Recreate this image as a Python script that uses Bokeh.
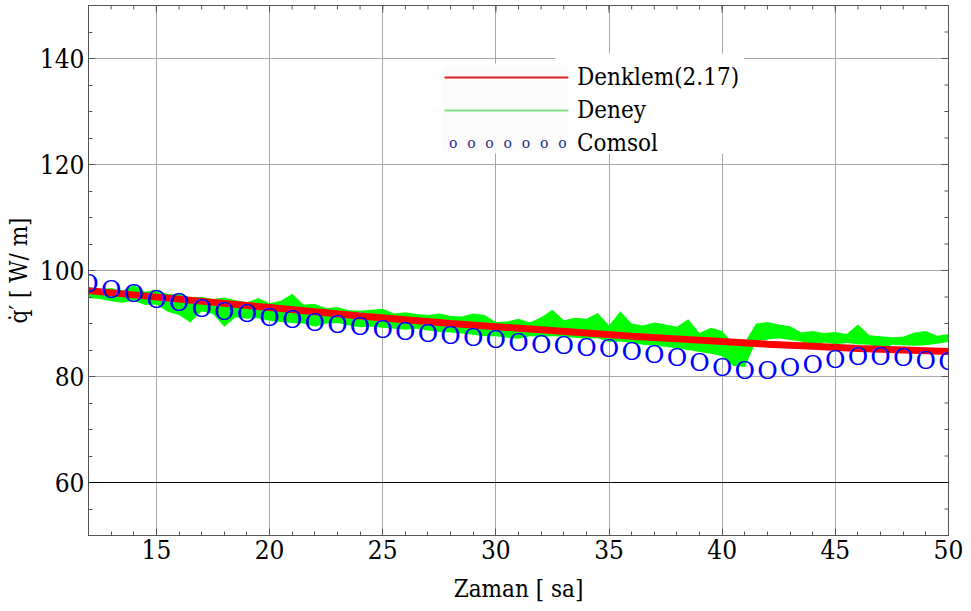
import math
import numpy as np
from bokeh.plotting import figure
from bokeh.models import Range1d, FixedTicker, Span
from bokeh.core.properties import value
from bokeh.embed import file_html
from bokeh.resources import INLINE

SERIF = "DejaVu Serif"
SERIF_C = "DejaVu Serif Condensed"

# ---- data -------------------------------------------------------------
# Denklem (2.17): model curve, heat flux per unit length [W/m] vs time [h]
denklem_t = [12, 14, 16, 18, 20, 22, 24, 26, 28, 30,
             32, 34, 36, 38, 40, 42, 44, 46, 48, 50]
denklem_q = [96.2, 95.4, 94.6, 93.8, 93.0, 92.2, 91.4, 90.7, 90.0, 89.4,
             88.8, 88.2, 87.6, 87.1, 86.6, 86.1, 85.7, 85.3, 85.0, 84.7]

# Deney: measured signal, drawn as its upper/lower envelope every half hour
deney_t = [12.0 + 0.5 * i for i in range(77)]
deney_high = [96.9, 96.5, 96.7, 96.2, 97.3, 96.0, 96.4, 95.5, 95.6, 94.9,
              95.0, 94.6, 94.9, 94.4, 94.0, 94.8, 93.8, 94.3, 95.6, 93.6,
              93.7, 92.9, 93.1, 92.5, 92.4, 92.6, 92.8, 91.9, 92.1, 91.8,
              91.6, 91.9, 91.4, 91.3, 91.9, 91.6, 90.3, 90.4, 90.9, 90.2,
              91.2, 92.6, 90.6, 91.1, 90.9, 92.0, 89.6, 92.3, 90.0, 89.6,
              90.2, 89.8, 89.4, 90.8, 88.2, 89.2, 88.6, 86.2, 86.4, 90.0,
              90.3, 89.8, 89.5, 88.3, 88.6, 88.2, 88.4, 88.0, 89.8, 87.8,
              87.6, 87.4, 87.5, 88.3, 88.6, 87.7, 88.0]
deney_low = [94.8, 94.6, 94.2, 93.9, 94.3, 93.5, 93.6, 92.2, 91.6, 90.2,
             92.3, 91.8, 89.4, 91.2, 90.9, 91.0, 90.5, 90.3, 90.1, 90.0,
             89.4, 90.0, 90.1, 89.6, 89.3, 89.4, 89.2, 89.0, 88.8, 89.0,
             88.7, 88.4, 88.3, 88.1, 87.9, 87.6, 87.6, 87.3, 87.1, 87.6,
             87.5, 87.6, 87.5, 87.3, 87.1, 87.2, 86.5, 86.6, 86.3, 86.0,
             85.8, 85.6, 85.3, 85.0, 84.6, 84.3, 83.8, 82.0, 81.8, 86.6,
             87.0, 87.2, 86.9, 86.6, 85.2, 86.4, 86.1, 86.3, 86.1, 86.0,
             85.2, 86.0, 85.9, 85.8, 85.9, 86.2, 86.5]

# Comsol: simulation, one value per hour
comsol_t = list(range(12, 51))
comsol_q = [97.6, 96.5, 95.6, 94.5, 93.9, 92.9, 92.3, 91.8, 91.1, 90.7,
            90.2, 89.8, 89.4, 88.9, 88.5, 88.2, 87.8, 87.4, 87.0, 86.5,
            86.1, 85.8, 85.5, 85.2, 84.8, 84.2, 83.5, 82.7, 81.7, 81.2,
            81.1, 81.7, 82.3, 83.2, 83.7, 83.7, 83.5, 83.1, 82.8]

x_major = [15, 20, 25, 30, 35, 40, 45, 50]
y_major = [60, 80, 100, 120, 140]
series_names = ["Denklem(2.17)", "Deney", "Comsol"]

X0, X1 = 12, 50
Y0, Y1 = 50, 150

# ---- figure -----------------------------------------------------------
p = figure(width=971, height=611, x_range=Range1d(X0, X1), y_range=Range1d(Y0, Y1),
           output_backend="svg", toolbar_location=None,
           min_border_left=88, min_border_right=23, min_border_top=5, min_border_bottom=76)
p.background_fill_color = "white"
p.border_fill_color = "white"
p.outline_line_color = "#555555"

AX = "#555555"
for ax in (p.xaxis[0], p.yaxis[0]):
    ax.axis_line_color = AX
    ax.major_tick_line_color = AX
    ax.minor_tick_line_color = AX
    ax.major_tick_in = 7
    ax.major_tick_out = 0
    ax.minor_tick_in = 4
    ax.minor_tick_out = 0
    ax.major_label_text_font = SERIF_C
    ax.major_label_text_font_size = "26px"
    ax.major_label_text_color = "black"
    ax.axis_label_text_font = SERIF_C
    ax.axis_label_text_font_size = "24px"
    ax.axis_label_text_font_style = "normal"
    ax.axis_label_text_color = "black"

p.xaxis.ticker = FixedTicker(ticks=x_major, minor_ticks=list(range(X0, X1 + 1)))
p.yaxis.ticker = FixedTicker(ticks=y_major, minor_ticks=list(range(Y0, Y1 + 1, 5)))
p.xaxis.major_label_standoff = 4
p.yaxis.major_label_standoff = 4
p.xaxis.axis_label = "Zaman [ sa]"
p.xaxis.axis_label_standoff = 13
p.yaxis.axis_label = "q\u0307\u2032 [ W/ m]"
p.yaxis.axis_label_standoff = 4

# inward tick marks on the top and right edges of the frame
p.ray(x=list(range(X0, X1 + 1)), y=[Y1] * (X1 - X0 + 1), length=4, length_units="screen",
      angle=-math.pi / 2, line_color=AX)
p.ray(x=x_major, y=[Y1] * len(x_major), length=7, length_units="screen",
      angle=-math.pi / 2, line_color=AX)
p.ray(x=[X1] * len(range(Y0, Y1 + 1, 5)), y=list(range(Y0, Y1 + 1, 5)), length=4,
      length_units="screen", angle=math.pi, line_color=AX)
p.ray(x=[X1] * len(y_major), y=y_major, length=7, length_units="screen",
      angle=math.pi, line_color=AX)

p.xgrid.ticker = FixedTicker(ticks=[t for t in x_major if X0 < t < X1])
p.ygrid.ticker = FixedTicker(ticks=[t for t in y_major if t != 60])
p.xgrid.grid_line_color = "#a8a8a8"
p.ygrid.grid_line_color = "#a8a8a8"
p.add_layout(Span(location=60, dimension="width", line_color="black", line_width=1))

# ---- series -----------------------------------------------------------
p.varea(x=deney_t, y1=deney_low, y2=deney_high, fill_color="#00ff00")
p.line(x=denklem_t, y=denklem_q, line_color="#ff0000", line_width=7)
p.text(x=comsol_t, y=comsol_q, text=["O"] * len(comsol_t), text_font=value(SERIF),
       text_font_size="25px", text_color="#0000ff", text_align="center",
       text_baseline="middle")

# ---- legend -----------------------------------------------------------
def fx(f):
    return X0 + f * (X1 - X0)

def fy(f):
    return Y0 + f * (Y1 - Y0)

p.quad(left=[fx(0.403)], right=[fx(0.762)], bottom=[fy(0.7208)], top=[fy(0.8906)],
       fill_color="white", line_color=None)
p.quad(left=[fx(0.543)], right=[fx(0.762)], bottom=[fy(0.7208)], top=[fy(0.9094)],
       fill_color="white", line_color=None)
p.quad(left=[fx(0.412)], right=[fx(0.558)], bottom=[fy(0.725)], top=[fy(0.885)],
       fill_color="#fbfbfb", line_color=None)

leg_x0, leg_x1 = fx(0.414), fx(0.558)
rows = [fy(0.8642), fy(0.8019), fy(0.7415)]
p.line(x=[leg_x0, leg_x1], y=[rows[0]] * 2, line_color="#dd2020", line_width=2)
p.line(x=[leg_x0, leg_x1], y=[rows[1]] * 2, line_color="#80e080", line_width=2)
ox = list(np.linspace(fx(0.424), fx(0.551), 7))
p.text(x=ox, y=[rows[2]] * 7, text=["o"] * 7, text_font=value(SERIF),
       text_font_size="14px", text_color="#2a2a90", text_align="center",
       text_baseline="middle")
p.text(x=[fx(0.568)] * 3, y=rows, text=series_names, text_font=value(SERIF_C),
       text_font_size="24px", text_color="black", text_align="left",
       text_baseline="middle")

open("out.html", "w").write(file_html(p, INLINE))
